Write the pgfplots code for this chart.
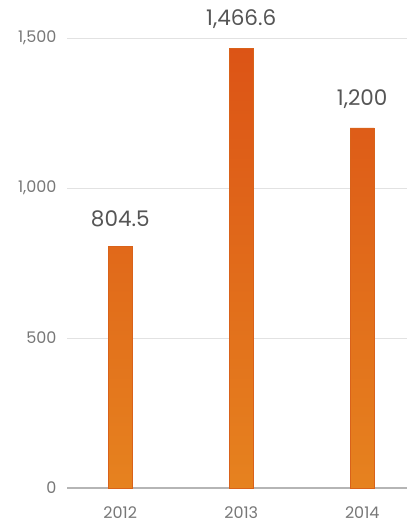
\documentclass[border=0pt]{standalone}
\usepackage{pgfplots}
\pgfplotsset{compat=1.18}
\usepackage{fontspec}
\setmainfont{Poppins}
\definecolor{bartop}{HTML}{DC5416}
\definecolor{barbot}{HTML}{E6821F}
\definecolor{baredge}{HTML}{D9621A}
\definecolor{gridc}{HTML}{E2E2E2}
\definecolor{basec}{HTML}{B5B5B5}
\definecolor{tickc}{HTML}{777777}
\definecolor{valc}{HTML}{555555}
\begin{document}
\begin{tikzpicture}
\useasboundingbox (0,0) rectangle (407pt,524pt);
\begin{axis}[
  at={(67pt,36pt)}, anchor=south west,
  scale only axis, width=340pt, height=450pt,
  xmin=-0.44, xmax=2.37, ymin=0, ymax=1500,
  xtick={0,1,2}, xticklabels={2012,2013,2014},
  ytick={0,500,1000,1500},
  axis x line*=bottom, axis y line*=left,
  y axis line style={draw=none},
  major tick length=0pt,
  ymajorgrids, grid style={gridc, line width=0.9pt},
  x axis line style={basec, line width=1.3pt, -},
  /pgf/number format/assume math mode=true,
  /pgf/number format/1000 sep={,},
  ticklabel style={font=\fontsize{16}{18}\selectfont, text=tickc},
  xticklabel style={yshift=-15pt},
  yticklabel style={xshift=-7pt},
  clip=false,
  ]
  \addplot[ybar, bar width=24pt, top color=bartop, bottom color=barbot, draw=baredge, line width=0.6pt,
    point meta=explicit symbolic,
    nodes near coords,
    every node near coord/.append style={font=\fontsize{21.5}{24}\selectfont, text=valc, anchor=south, yshift=16pt}]
  coordinates {(0,804.5)[804.5] (1,1466.6)[{1,466.6}] (2,1200)[{1,200}]};
\end{axis}
\end{tikzpicture}
\end{document}
